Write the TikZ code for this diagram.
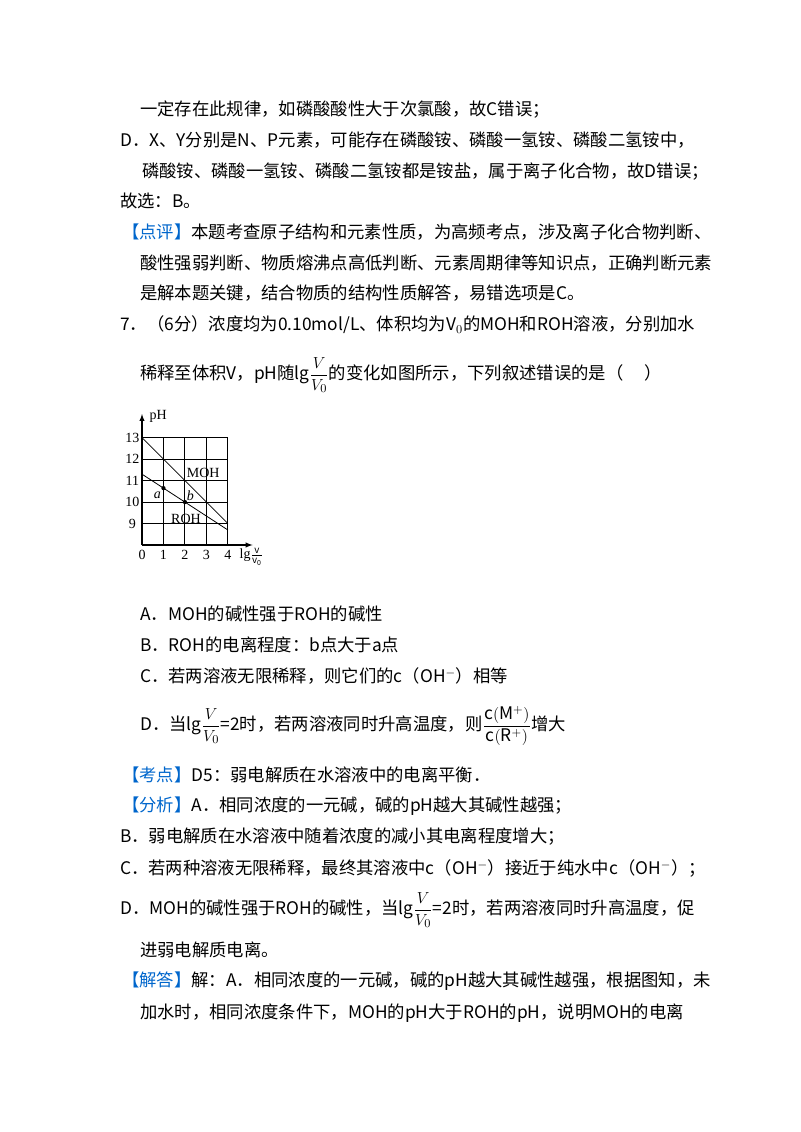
\documentclass[tikz,border=0pt]{standalone}
\usepackage{amsmath}
\usepackage{fontspec}
\setmainfont{Noto Sans CJK SC}
\newfontfamily\serif{Liberation Serif}
\definecolor{kblue}{RGB}{0,102,204}
\begin{document}
\begin{tikzpicture}[x=0.75pt,y=-0.75pt,
  tl/.style={anchor=west,inner sep=0pt,font=\fontsize{13pt}{15pt}\selectfont},
  gl/.style={inner sep=0pt,font=\serif\fontsize{10.5pt}{11pt}\selectfont}]
\useasboundingbox (0,0) rectangle (800,1132);
\node[tl] (l1) at (140,110) {一定存在此规律，如磷酸酸性大于次氯酸，故C错误；};
\node[tl] (l2) at (120,140) {D．X、Y分别是N、P元素，可能存在磷酸铵、磷酸一氢铵、磷酸二氢铵中，};
\node[tl] (l3) at (142,172) {磷酸铵、磷酸一氢铵、磷酸二氢铵都是铵盐，属于离子化合物，故D错误；};
\node[tl] (l4) at (120,201) {故选：B。};
\node[tl] (l5) at (122,232) {\textcolor{kblue}{【点评】}本题考查原子结构和元素性质，为高频考点，涉及离子化合物判断、};
\node[tl] (l6) at (140,263) {酸性强弱判断、物质熔沸点高低判断、元素周期律等知识点，正确判断元素};
\node[tl] (l7) at (140,293) {是解本题关键，结合物质的结构性质解答，易错选项是C。};
\node[tl] (l8) at (120,325) {7．（6分）浓度均为0.10mol/L、体积均为V$_0$的MOH和ROH溶液，分别加水};
\node[tl] (l9) at (140,375) {稀释至体积V，pH随lg$\dfrac{V}{V_0}$的变化如图所示，下列叙述错误的是（\quad\ ）};

\begin{scope}[shift={(142,545)},x=16.1pt,y=16.1pt]
  \foreach \i in {1,...,4} \draw[line width=0.8pt] (\i,0) -- (\i,5);
  \foreach \j in {1,...,5} \draw[line width=0.8pt] (0,\j) -- (4,\j);
  \draw[line width=0.8pt,-latex] (0,0) -- (5.15,0);
  \draw[line width=0.8pt,-latex] (0,0) -- (0,6.1);
  \draw[line width=0.6pt] (0,5) -- (4,1);
  \draw[line width=0.6pt] (0,3.3) -- (4,0.7);
  \fill (1,2.65) circle (1.6pt);
  \fill (2,2) circle (1.6pt);
  \foreach \p in {9,...,13} \node[gl] (t\p) at (-0.45,\p-8) {\p};
  \foreach \q in {0,...,4} \node[gl] (x\q) at (\q,-0.45) {\q};
  \node[gl] (ph) at (0.75,6) {pH};
  \node[gl] (xl) at (5.1,-0.55) {lg$\frac{\mathrm{v}}{\mathrm{v_0}}$};
  \node[gl] (moh) at (2.85,3.35) {MOH};
  \node[gl] (roh) at (2.05,1.2) {ROH};
  \node[gl,font=\serif\itshape\fontsize{10.5pt}{11pt}\selectfont] (pa) at (0.72,2.33) {a};
  \node[gl,font=\serif\itshape\fontsize{10.5pt}{11pt}\selectfont] (pb) at (2.25,2.3) {b};
\end{scope}

\node[tl] (oa) at (140,614) {A．MOH的碱性强于ROH的碱性};
\node[tl] (ob) at (140,645) {B．ROH的电离程度：b点大于a点};
\node[tl] (oc) at (140,676) {C．若两溶液无限稀释，则它们的c（OH$^-$）相等};
\node[tl] (od) at (140,726) {D．当lg$\dfrac{V}{V_0}$=2时，若两溶液同时升高温度，则$\dfrac{\mathrm{c}(\mathrm{M}^+)}{\mathrm{c}(\mathrm{R}^+)}$增大};
\node[tl] (k1) at (122,775) {\textcolor{kblue}{【考点】}D5：弱电解质在水溶液中的电离平衡．};
\node[tl] (k2) at (122,806) {\textcolor{kblue}{【分析】}A．相同浓度的一元碱，碱的pH越大其碱性越强；};
\node[tl] (k3) at (120,837) {B．弱电解质在水溶液中随着浓度的减小其电离程度增大；};
\node[tl] (k4) at (120,868) {C．若两种溶液无限稀释，最终其溶液中c（OH$^-$）接近于纯水中c（OH$^-$）；};
\node[tl] (k5) at (120,910) {D．MOH的碱性强于ROH的碱性，当lg$\dfrac{V}{V_0}$=2时，若两溶液同时升高温度，促};
\node[tl] (k6) at (140,950) {进弱电解质电离。};
\node[tl] (k7) at (122,981) {\textcolor{kblue}{【解答】}解：A．相同浓度的一元碱，碱的pH越大其碱性越强，根据图知，未};
\node[tl] (k8) at (140,1013) {加水时，相同浓度条件下，MOH的pH大于ROH的pH，说明MOH的电离};
\end{tikzpicture}
\end{document}
